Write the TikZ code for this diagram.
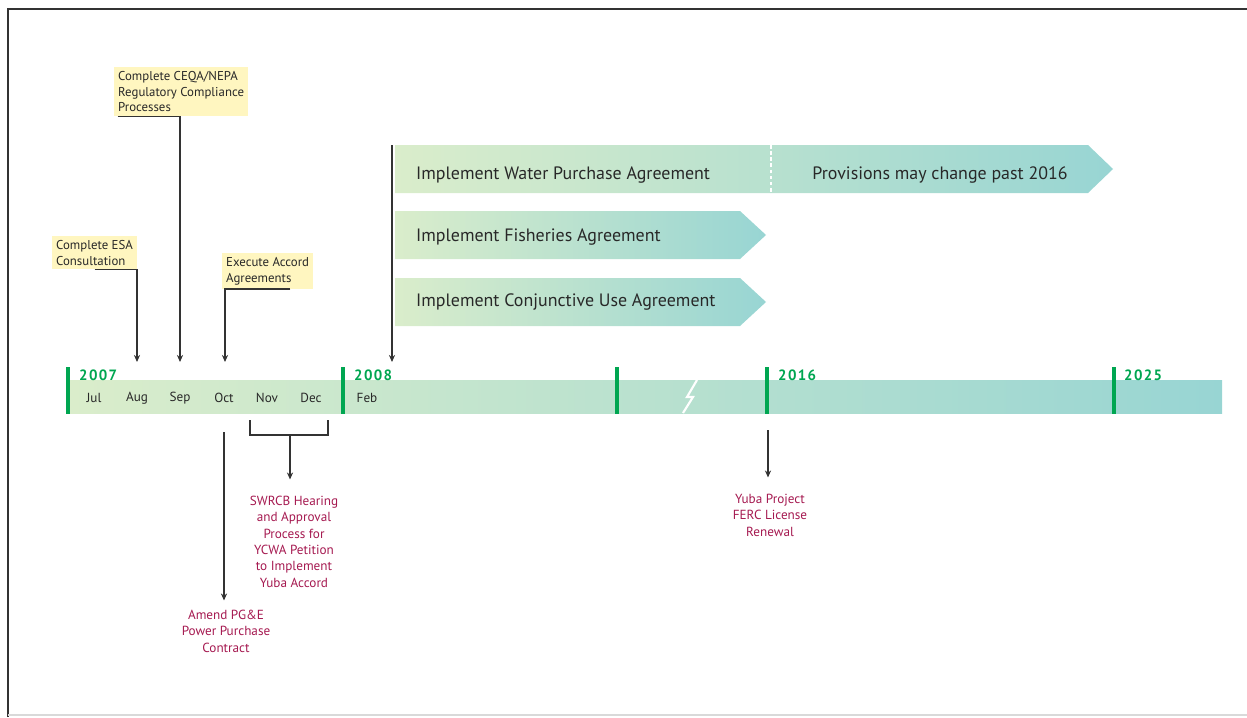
\documentclass[tikz,border=0pt]{standalone}
\usepackage{fontspec}
\setmainfont{PT Sans}
\usetikzlibrary{arrows.meta}
\definecolor{tlgreen}{RGB}{0,166,81}
\definecolor{barleft}{RGB}{218,237,203}
\definecolor{barright}{RGB}{152,213,211}
\definecolor{notefill}{RGB}{255,246,192}
\definecolor{crimson}{RGB}{165,25,80}
\definecolor{txtgrey}{RGB}{40,40,40}
\begin{document}
\begin{tikzpicture}[x=0.02cm,y=-0.02cm,
 every node/.style={font=\fontsize{7.3}{9}\selectfont,text=txtgrey},
 note/.style={fill=notefill,align=left,inner sep=2.2pt,anchor=north west},
 result/.style={text=crimson,align=center,anchor=north,font=\fontsize{7.5}{9.3}\selectfont},
 month/.style={font=\fontsize{7.5}{9}\selectfont},
 yearlbl/.style={text=tlgreen,anchor=west,
   font=\fontsize{8.5}{10}\selectfont\bfseries\addfontfeature{LetterSpace=9}},
 tick/.style={draw=tlgreen,line width=2.3pt},
 lead/.style={draw=black!80,line width=.8pt,-{Stealth[length=4pt,width=3.5pt]}},
 phase/.style={font=\fontsize{10.2}{12}\selectfont,anchor=west}]
\useasboundingbox (0,0) rectangle (1247,717);
% frame
\draw[black!80,line width=1.2pt] (8,717) -- (8,9) -- (1247,9);
\draw[black!15,line width=1pt] (8,715) -- (1247,715);

% timeline bar
\shade[left color=barleft,right color=barright] (70,380) rectangle (1222,413);
\draw[white,line width=1.2pt] (697,380) -- (687,397) -- (693,397) -- (683,413);
\foreach \x in {68,343,617,767,1114}
 \draw[tick] (\x,367) -- (\x,414);
\foreach \y/\x in {2007/73,2008/348,2016/772,2025/1118}
 \node[yearlbl] (y\y) at (\x,375) {\y};
\foreach \m/\x in {Jul/94,Aug/137,Sep/180,Oct/224,Nov/267,Dec/311,Feb/367}
 \node[month] (m\m) at (\x,398) {\m};
\foreach \m/\x in {Aug/137,Sep/180,Oct/225,Feb/392}
 \coordinate (t\m) at (\x,362);

% phase arrows
\shade[left color=barleft,right color=barright]
 (395,145) -- (1088,145) -- (1113,169) -- (1088,193) -- (395,193) -- cycle;
\draw[white,line width=1.5pt,dash pattern=on 2pt off 1.5pt] (771,145) -- (771,193);
\shade[left color=barleft,right color=barright]
 (395,211) -- (740,211) -- (766,235) -- (740,259) -- (395,259) -- cycle;
\shade[left color=barleft,right color=barright]
 (395,278) -- (740,278) -- (766,302) -- (740,326) -- (395,326) -- cycle;
\node[phase] (wpa) at (410,175) {Implement Water Purchase Agreement};
\node[phase,anchor=center] (prov) at (940,175) {Provisions may change past 2016};
\node[phase] (fish) at (410,237) {Implement Fisheries Agreement};
\node[phase] (conj) at (410,302) {Implement Conjunctive Use Agreement};
\coordinate (wTop) at (392,145);
\draw[lead] (wTop) -- (tFeb);

% milestones above
\node[note] (esa) at (52,236) {Complete ESA\\Consultation};
\node[note] (ceqa) at (114,67) {Complete CEQA/NEPA\\Regulatory Compliance\\Processes};
\node[note] (exec) at (222,253) {Execute Accord\\Agreements};
\draw[lead] (esa.south) -| (tAug);
\draw[lead] ([xshift=2pt]ceqa.south west) -| (tSep);
\draw[lead] ([xshift=-13pt]exec.south east) -| (tOct);

% milestones below
\coordinate (bOct) at (224,432);
\coordinate (brk) at (290,435);
\coordinate (b2016) at (768,430);
\draw[line width=.8pt,black!80] (250,420) |- (328,435) -- (328,420);
\node[result] (pge) at (226,604) {Amend PG\&E\\Power Purchase\\Contract};
\node[result] (swrcb) at (294,490) {SWRCB Hearing\\and Approval\\Process for\\YCWA Petition\\to Implement\\Yuba Accord};
\node[result] (ferc) at (770,488) {Yuba Project\\FERC License\\Renewal};
\draw[lead,shorten >=2pt] (bOct) -- (bOct |- pge.north);
\draw[lead,shorten >=6pt] (brk) -- (brk |- swrcb.north);
\draw[lead,shorten >=6pt] (b2016) -- (b2016 |- ferc.north);
\end{tikzpicture}
\end{document}
